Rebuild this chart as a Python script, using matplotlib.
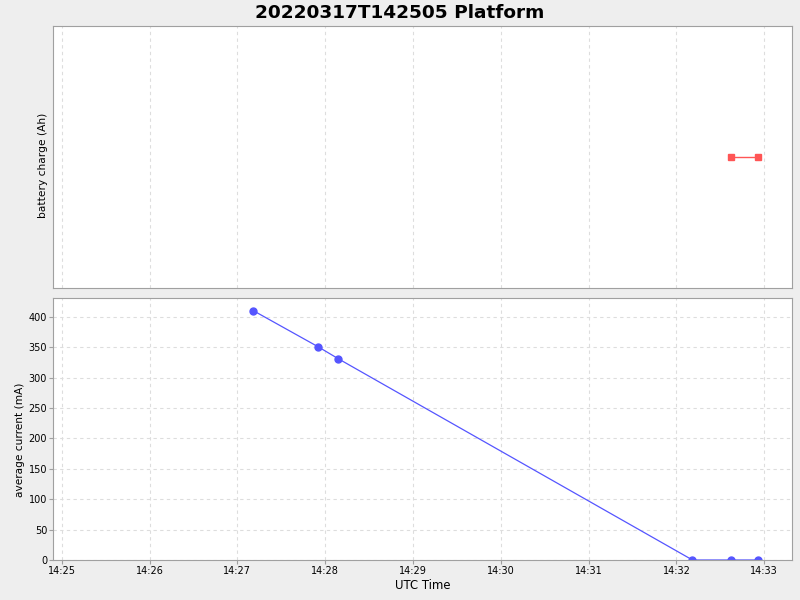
import matplotlib
matplotlib.use("Agg")
import matplotlib.pyplot as plt
import matplotlib.dates as mdates
from datetime import datetime

current_times = ["2022-03-17 14:27:11", "2022-03-17 14:27:55", "2022-03-17 14:28:09",
                 "2022-03-17 14:32:11", "2022-03-17 14:32:37", "2022-03-17 14:32:56"]
current_values = [410, 351, 331, 0, 0, 0]
charge_times = ["2022-03-17 14:32:37", "2022-03-17 14:32:56"]
charge_values = [0.0, 0.0]

fmt = "%Y-%m-%d %H:%M:%S"
ct = [datetime.strptime(t, fmt) for t in current_times]
bt = [datetime.strptime(t, fmt) for t in charge_times]
xmin = datetime.strptime("2022-03-17 14:24:54", fmt)
xmax = datetime.strptime("2022-03-17 14:33:19", fmt)

plt.rcParams['font.family'] = ['DejaVu Sans']
fig = plt.figure(figsize=(8, 6), dpi=100, facecolor="#EEEEEE")
ax1 = fig.add_axes([0.06625, 0.52, 0.92375, 0.43667])
ax2 = fig.add_axes([0.06625, 0.06667, 0.92375, 0.43667])

for ax in (ax1, ax2):
    ax.set_facecolor("white")
    for s in ax.spines.values():
        s.set_color("#A0A0A0")
    ax.grid(True, color="#DDDDDD", linestyle=(0, (3, 3)), linewidth=0.8)
    ax.set_axisbelow(True)
    ax.tick_params(colors="#A0A0A0", labelcolor="black", labelsize=7, length=3, pad=1.2)
    ax.set_xlim(xmin, xmax)
    ax.xaxis.set_major_locator(mdates.MinuteLocator())
    ax.xaxis.set_major_formatter(mdates.DateFormatter("%H:%M"))

ax1.plot(bt, charge_values, color="#FF5555", linewidth=1, marker="s", markersize=5)
ax1.set_ylim(-1, 1)
ax1.set_yticks([])
ax1.tick_params(axis="x", labelbottom=False, length=0)
ax1.set_ylabel("battery charge (Ah)", fontsize=7.7)
ax1.yaxis.set_label_coords(-0.007, 0.468)

ax2.plot(ct, current_values, color="#5555FF", linewidth=0.9, marker="o", markersize=5)
ax2.set_ylim(0, 431)
ax2.set_yticks(range(0, 401, 50))
ax2.set_ylabel("average current (mA)", fontsize=7.6)
ax2.yaxis.set_label_coords(-0.038, 0.46)
ax2.set_xlabel("UTC Time", fontsize=8.4, labelpad=2)

fig.suptitle("20220317T142505 Platform", fontsize=13.3, fontweight="bold", y=0.993)
fig.savefig("out.png", dpi=100, facecolor=fig.get_facecolor())
